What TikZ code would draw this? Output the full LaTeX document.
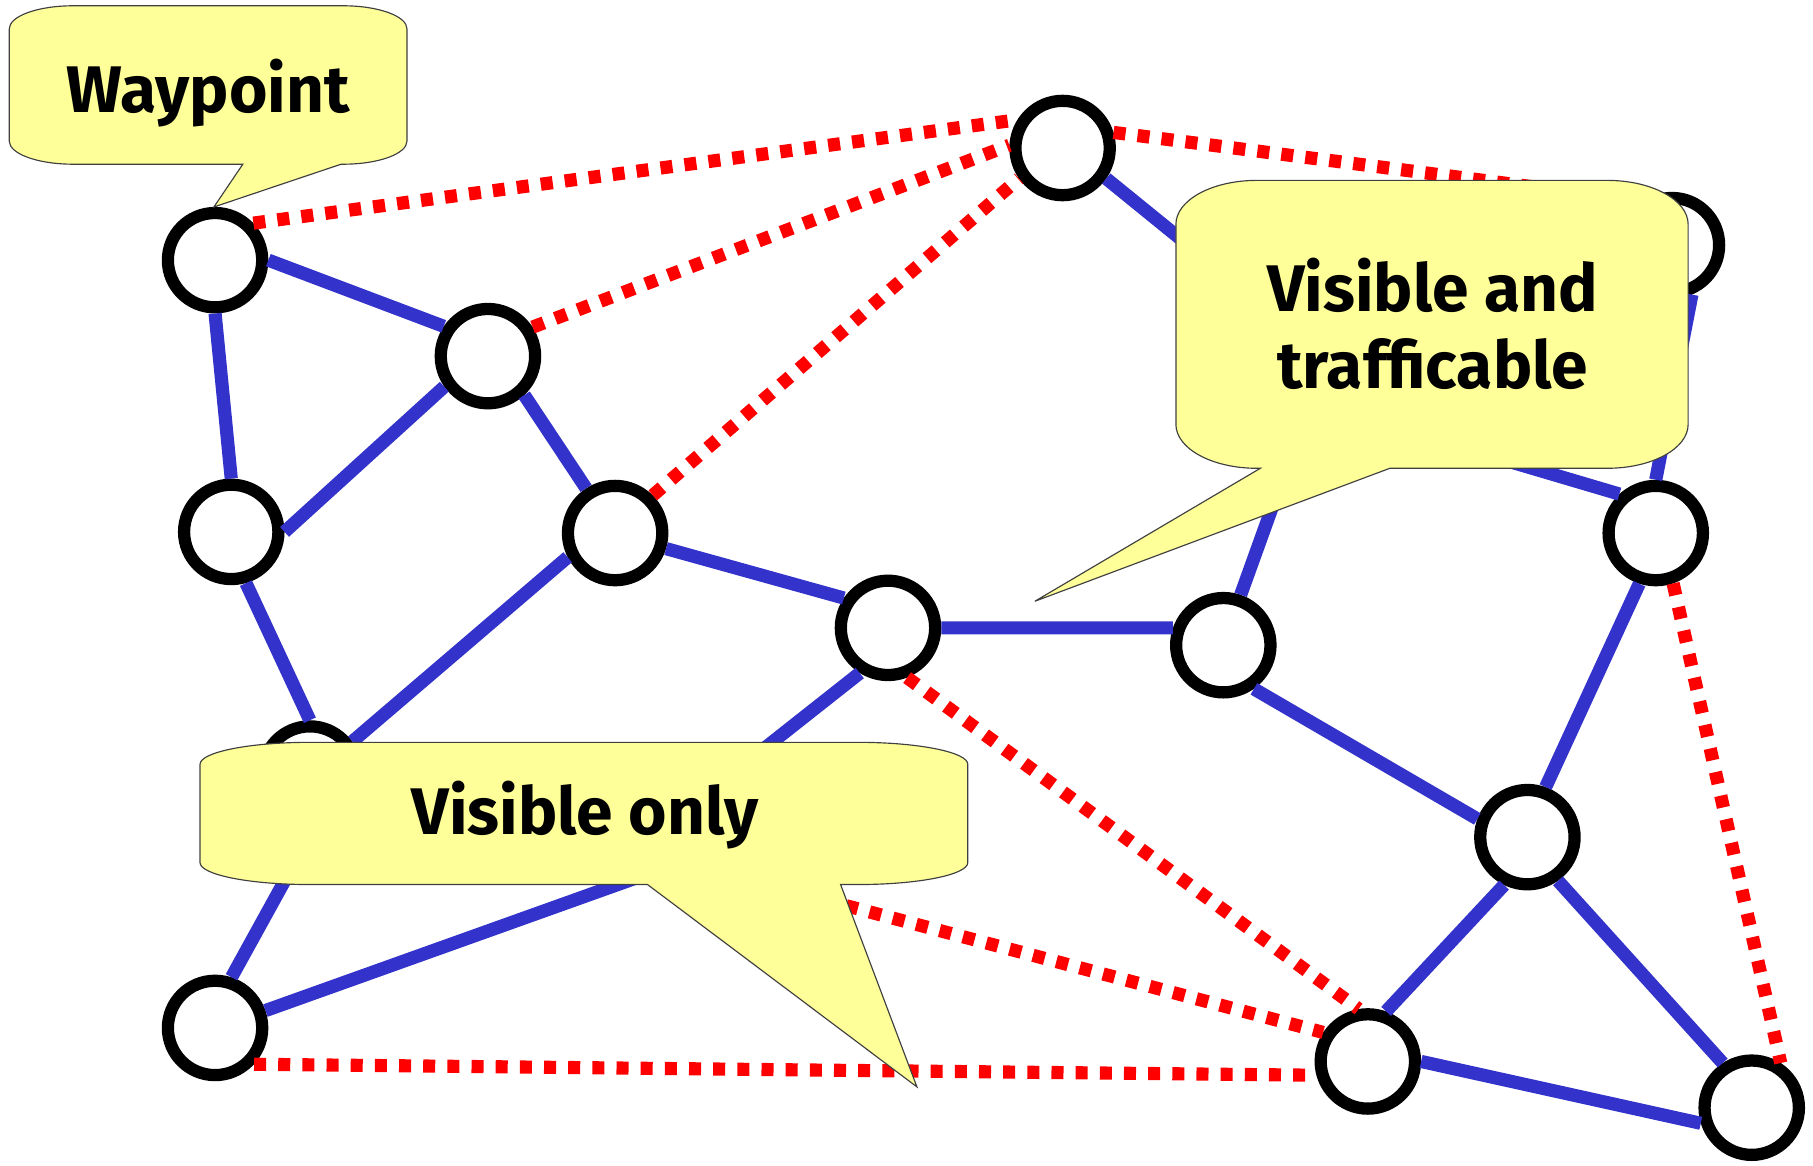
\documentclass[tikz,border=0pt]{standalone}
\usepackage{fontspec}
\setmainfont{Fira Sans}
\usepackage{tikz}

\definecolor{linkblue}{HTML}{3333CC}
\definecolor{sightred}{HTML}{FF0000}
\definecolor{notefill}{HTML}{FFFF99}

\begin{document}
\begin{tikzpicture}[x=0.5pt,y=-0.5pt,
    wp/.style={circle,draw=black,fill=white,line width=5.3pt,minimum size=40.8pt,inner sep=0pt},
    road/.style={draw=linkblue,line width=5.7pt},
    sight/.style={draw=sightred,line width=5.7pt,dash pattern=on 5.2pt off 5.25pt},
    bubble/.style={fill=notefill,draw=black!75,line width=0.5pt},
    notetext/.style={font=\fontsize{28.5}{33.5}\selectfont\bfseries,align=center}]
\useasboundingbox (0,0) rectangle (1568,1008);

\begin{scope}[every node/.style={wp}]
    \node (a) at (186,225) {};
    \node (b) at (422,308) {};
    \node (c) at (200,460) {};
    \node (d) at (532,461) {};
    \node (e) at (919,128) {};
    \node (f) at (768,543) {};
    \node (g) at (1058,558) {};
    \node (h) at (1446,212) {};
    \node (i) at (1432,461) {};
    \node (j) at (268,669) {};
    \node (k) at (1321,724) {};
    \node (l) at (186,889) {};
    \node (m) at (1183,918) {};
    \node (n) at (1515,958) {};
\end{scope}
% ends that sit under the notes
\coordinate (p1) at (1147,309);
\coordinate (p2) at (1200,368);
\coordinate (q1) at (550,735);
\coordinate (q2) at (565,754);

% visible and trafficable
\begin{scope}[every edge/.style={road}]
    \path (a.0) edge (b.146);
    \path (a.270) edge (c.90);
    \path (b.215) edge (c.0);
    \path (b.313) edge (d.123);
    \path (c.286) edge (j.90);
    \path (d.207) edge (j.37);
    \path (d.343) edge (f.146);
    \path (f.0) edge (g.161);
    \path (f.238) edge (q1);
    \path (l.72) edge (j.275);
    \path (l.19) edge (q2);
    \path (e.325) edge (p1);
    \path (g.71) edge (p1);
    \path (i.133) edge (p2);
    \path (h.292) edge (i.90);
    \path (g.305) edge (k.160);
    \path (i.252) edge (k.70);
    \path (k.244) edge (m.70);
    \path (k.305) edge (n.123);
    \path (m.0) edge (n.197);
\end{scope}

% visible only
\begin{scope}[every edge/.style={sight}]
    \path (a.44) edge (e.148);
    \path (b.33) edge (e.177);
    \path (d.45) edge (e.215);
    \path (e.17) edge (h.124);
    \path (i.289) edge (n.57);
    \path (f.291) edge (m.100);
    \path (q1) edge (m.147);
    \path (l.317) edge (m.195);
\end{scope}

% notes
\path[bubble] (8,25) arc[start angle=180,end angle=90,x radius=27.5pt,y radius=10pt]
    -- (297,5) arc[start angle=90,end angle=0,x radius=27.5pt,y radius=10pt]
    -- (352,122) arc[start angle=0,end angle=-90,x radius=27.5pt,y radius=10pt]
    -- (295,142) -- (185,179) -- (210,142)
    -- (63,142) arc[start angle=270,end angle=180,x radius=27.5pt,y radius=10pt] -- cycle;
\node[notetext,anchor=base] (waypointtag) at (180,97) {Waypoint};

\path[bubble] (1017,194) arc[start angle=180,end angle=90,x radius=35pt,y radius=19pt]
    -- (1390,156) arc[start angle=90,end angle=0,x radius=35pt,y radius=19pt]
    -- (1460,367) arc[start angle=0,end angle=-90,x radius=35pt,y radius=19pt]
    -- (1202,405) -- (895,520) -- (1090,405)
    -- (1087,405) arc[start angle=270,end angle=180,x radius=35pt,y radius=19pt] -- cycle;
\node[notetext] (trafficabletag) at (1239,280) {Visible and\\trafficable};

\path[bubble] (173,661) arc[start angle=180,end angle=90,x radius=47.5pt,y radius=9.5pt]
    -- (742,642) arc[start angle=90,end angle=0,x radius=47.5pt,y radius=9.5pt]
    -- (837,746) arc[start angle=0,end angle=-90,x radius=47.5pt,y radius=9.5pt]
    -- (727,765) -- (793,940) -- (560,765)
    -- (268,765) arc[start angle=270,end angle=180,x radius=47.5pt,y radius=9.5pt] -- cycle;
\node[notetext,anchor=base] (visibletag) at (506,722) {Visible only};
\end{tikzpicture}
\end{document}
